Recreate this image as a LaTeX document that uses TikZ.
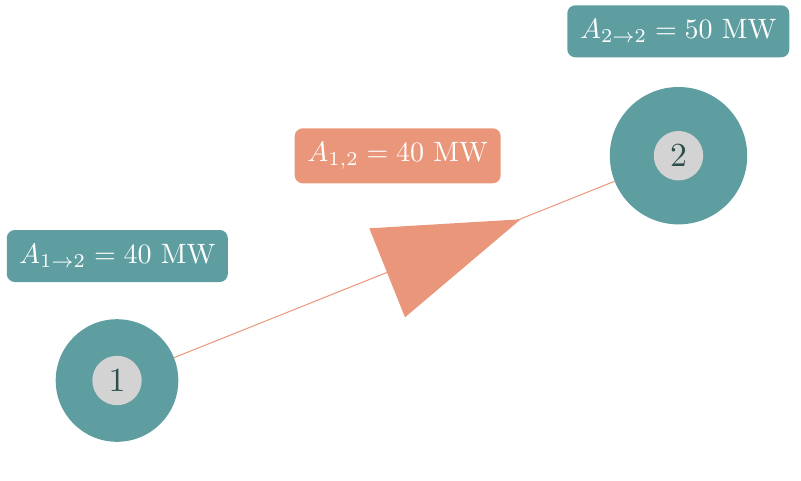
\documentclass[tikz,border=0pt]{standalone}
\definecolor{cadet}{HTML}{5F9EA0}
\definecolor{dsalmon}{HTML}{E9967A}
\definecolor{lgray}{HTML}{D3D3D3}
\definecolor{dslate}{HTML}{2F4F4F}
\newcommand{\biglbl}[1]{\scalebox{2.8}{#1}}
\newcommand{\bignum}[1]{\scalebox{3.37}{#1}}
\begin{document}
\begin{tikzpicture}[x=1pt,y=-1pt,
  lbl/.style={rounded corners=8pt, text=white, inner sep=0pt, minimum height=52pt},
  outerc/.style={circle, fill=cadet, inner sep=0pt},
  innerc/.style={circle, fill=lgray, inner sep=0pt, minimum size=49.4pt, text=dslate},
  link/.style={draw=dsalmon, line width=1pt}]
\useasboundingbox (0,0) rectangle (801,480);
\node[outerc, minimum size=122.6pt] (n1) at (117,380.5) {};
\node[innerc] (c1) at (n1) {\bignum{1}};
\node[outerc, minimum size=137.4pt] (n2) at (678.5,155.7) {};
\node[innerc] (c2) at (n2) {\bignum{2}};
\draw[link] (n1) -- (n2);
\coordinate (t1) at (369.3,228.3);
\coordinate (t2) at (405,317.3);
\coordinate (t3) at (520.7,219.3);
\fill[dsalmon] (t1) -- (t2) -- (t3) -- cycle;
\node[lbl, fill=cadet, minimum width=221pt] (l1) at (117.3,256) {\biglbl{$A_{1\to2} = 40$ MW}};
\node[lbl, fill=cadet, minimum width=222pt] (l2) at (678.3,31.3) {\biglbl{$A_{2\to2} = 50$ MW}};
\node[lbl, fill=dsalmon, minimum width=206pt, minimum height=55pt] (l3) at (397.7,155.8) {\biglbl{$A_{1,2} = 40$ MW}};
\end{tikzpicture}
\end{document}
